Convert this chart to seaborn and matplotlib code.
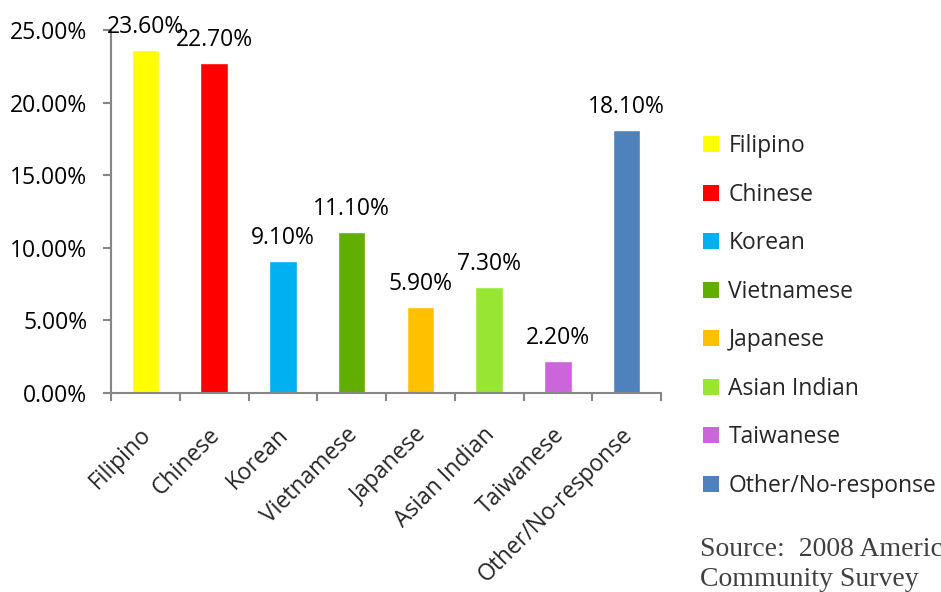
import matplotlib
matplotlib.use("Agg")
import matplotlib.pyplot as plt
import seaborn as sns
import pandas as pd
from matplotlib.patches import Patch
from matplotlib.ticker import FixedLocator, FuncFormatter
from matplotlib.transforms import ScaledTranslation

categories = ["Filipino", "Chinese", "Korean", "Vietnamese", "Japanese",
              "Asian Indian", "Taiwanese", "Other/No-response"]
values = [23.6, 22.7, 9.1, 11.1, 5.9, 7.3, 2.2, 18.1]
colors = ["#FFFF00", "#FF0000", "#00B0F0", "#60AE00", "#FFC000",
          "#98E632", "#CC64DC", "#4F81BD"]
yticks = [0, 5, 10, 15, 20, 25]
source_lines = ["Source:  2008 American", "Community Survey"]

sns.set_style("white")
plt.rcParams['font.family'] = ['Open Sans', 'DejaVu Sans']

df = pd.DataFrame({"cat": categories, "val": values})

fig = plt.figure(figsize=(9.41, 5.92), dpi=100)
ax = fig.add_axes([111/941, 1-393/592, 550/941, 363/592])

sns.barplot(data=df, x="cat", y="val", hue="cat", palette=colors,
            width=0.4, legend=False, ax=ax, saturation=1)

ax.set_ylim(0, 25)
ax.set_xlim(-0.5, len(categories) - 0.5)
ax.yaxis.set_major_locator(FixedLocator(yticks))
ax.yaxis.set_major_formatter(FuncFormatter(lambda v, p: f"{v:.2f}%"))
ax.set_xlabel("")
ax.set_ylabel("")

for s in ["top", "right"]:
    ax.spines[s].set_visible(False)
for s in ["left", "bottom"]:
    ax.spines[s].set_color("#868686")
    ax.spines[s].set_linewidth(1.5)

FS = 16.5
ax.tick_params(axis="y", which="major", left=True, length=6, width=1.5,
               color="#868686", labelsize=FS, pad=11, labelcolor="black")
ax.set_xticks(range(len(categories)))
ax.set_xticklabels(categories, rotation=45, ha="right", rotation_mode="anchor",
                   fontsize=FS)
ax.tick_params(axis="x", which="major", bottom=False, pad=18)
ax.set_xticks([i - 0.5 for i in range(len(categories) + 1)], minor=True)
ax.tick_params(axis="x", which="minor", bottom=True, length=6, width=1.5,
               color="#868686")
shift = ScaledTranslation(-6/100, 0, fig.dpi_scale_trans)
for lab in ax.get_xticklabels():
    lab.set_transform(lab.get_transform() + shift)

for i, v in enumerate(values):
    ax.annotate(f"{v:.2f}%", (i, v), xytext=(0, 8), textcoords="offset points",
                ha="center", va="bottom", fontsize=FS, color="black")

handles = [Patch(facecolor=c, edgecolor="none") for c in colors]
fig.legend(handles, categories, loc="upper left",
           bbox_to_anchor=(694/941, 1-125/592), frameon=False, fontsize=FS,
           handlelength=0.7, handleheight=0.7, handletextpad=0.4,
           labelspacing=1.07, borderaxespad=0)

fig.text(700/941, 1-550/592, source_lines[0], fontsize=20,
         family="Liberation Serif", color="#404040", va="center")
fig.text(700/941, 1-579/592, source_lines[1], fontsize=20,
         family="Liberation Serif", color="#404040", va="center")

fig.savefig("out.png", dpi=100)
